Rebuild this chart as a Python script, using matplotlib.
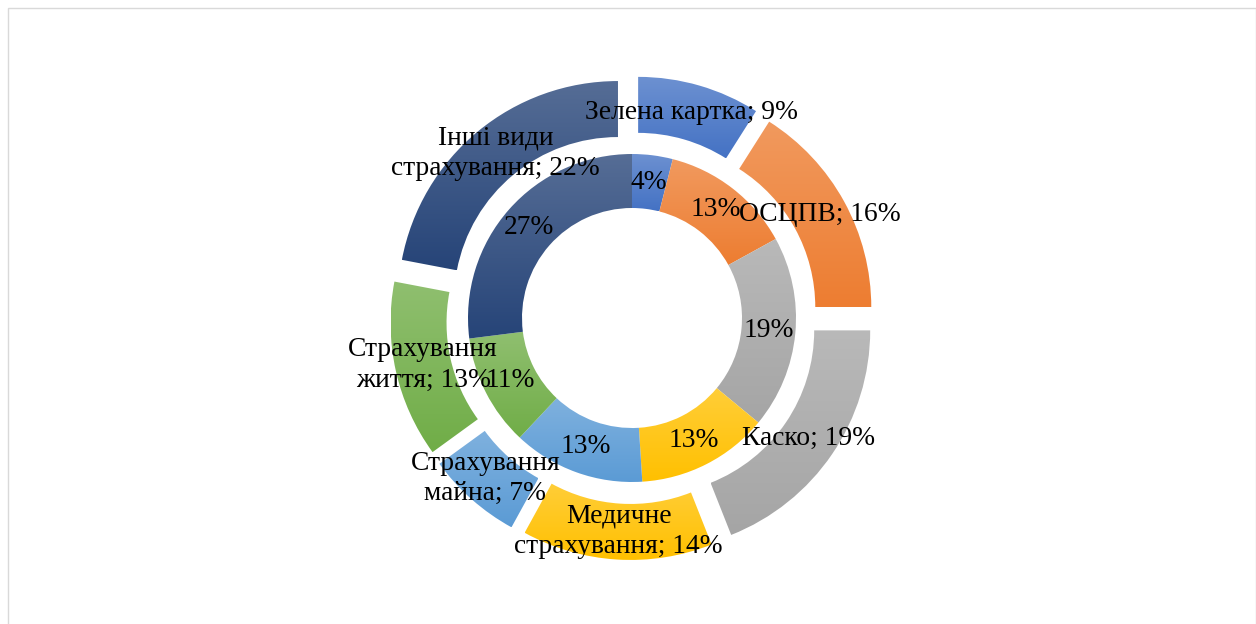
import numpy as np
import matplotlib
matplotlib.use("Agg")
import matplotlib.pyplot as plt
from matplotlib.colors import LinearSegmentedColormap, to_rgb
from matplotlib.patches import Rectangle

plt.rcParams['font.family'] = ['Liberation Serif', 'DejaVu Serif']

# outer ring: share of insurance premiums by type
outer_labels = ["Зелена картка", "ОСЦПВ", "Каско", "Медичне\nстрахування",
                "Страхування\nмайна", "Страхування\nжиття", "Інші види\nстрахування"]
outer_vals = [9, 16, 19, 14, 7, 13, 22]
# inner ring: the same types, other period
inner_vals = [4, 13, 19, 13, 13, 11, 27]

colors = ["#4472C4", "#ED7D31", "#A5A5A5", "#FFC000", "#5B9BD5", "#70AD47", "#264478"]

W, H = 1256, 624
cx, cy = 632, H - 318
r_out, r_mid, r_hole = 220, 164, 110
explode_px = 22

fig = plt.figure(figsize=(W / 100, H / 100), dpi=100)
ax = fig.add_axes([0, 0, 1, 1])

def pct_text(labels):
    it = iter(labels)
    return lambda p: next(it)

outer_txt = [f"{lab}; {v}%" for lab, v in zip(outer_labels, outer_vals)]
inner_txt = [f"{v}%" for v in inner_vals]

ow, _, otexts = ax.pie(outer_vals, radius=r_out, center=(cx, cy), startangle=90,
                       counterclock=False, explode=[explode_px] * len(outer_vals),
                       wedgeprops=dict(width=r_out - r_mid, linewidth=0),
                       autopct=pct_text(outer_txt),
                       pctdistance=(r_out + r_mid) / 2 / r_out,
                       textprops=dict(fontsize=19.8, color="black"))
iw, _, itexts = ax.pie(inner_vals, radius=r_mid, center=(cx, cy), startangle=90,
                       counterclock=False,
                       wedgeprops=dict(width=r_mid - r_hole, linewidth=0),
                       autopct=pct_text(inner_txt),
                       pctdistance=(r_mid + r_hole) / 2 / r_mid,
                       textprops=dict(fontsize=19.8, color="black"))

x, y = otexts[4].get_position()
otexts[4].set_position((x - 5, y))

for t in list(otexts) + list(itexts):
    t.set_linespacing(1.3)
    t.set_zorder(5)

# vertical gradient fill for every slice: lighter tint at the top
grad = np.linspace(0, 1, 256).reshape(-1, 1)
for wedges in (ow, iw):
    for w, c in zip(wedges, colors):
        base = np.array(to_rgb(c))
        top = base * 0.78 + 0.22
        cmap = LinearSegmentedColormap.from_list("g", [base, top])
        ext = w.get_path().get_extents()
        w.set_facecolor("none")
        im = ax.imshow(grad, cmap=cmap, origin="lower", aspect="auto",
                       extent=[ext.x0, ext.x1, ext.y0, ext.y1], zorder=2)
        im.set_clip_path(w)

ax.set_xlim(0, W)
ax.set_ylim(0, H)
ax.set_aspect("equal")
ax.axis("off")

fig.patches.append(Rectangle((7.5 / W, -0.1), (W - 8) / W, (H - 7.5) / H + 0.1,
                             transform=fig.transFigure, fill=False,
                             edgecolor="#d9d9d9", linewidth=1))

fig.savefig("out.png", dpi=100, facecolor="white")
